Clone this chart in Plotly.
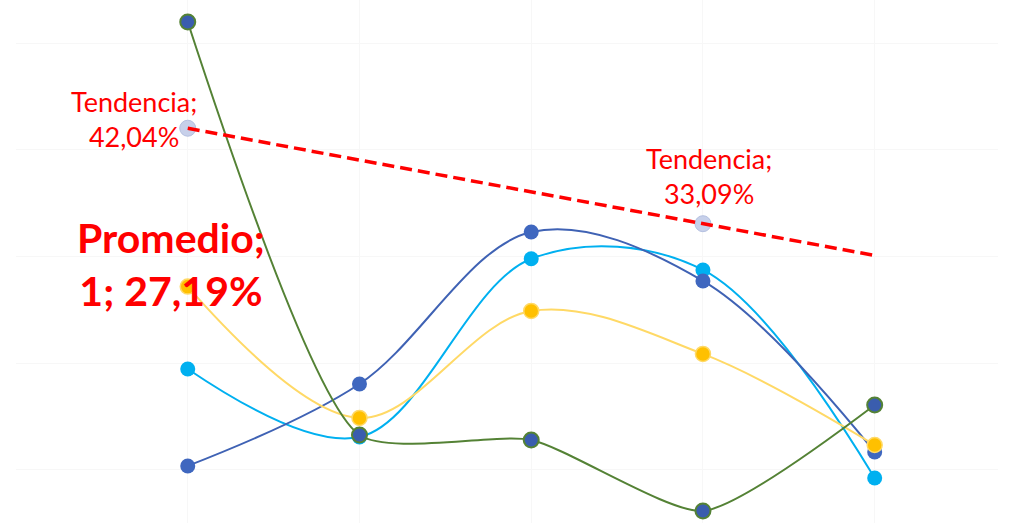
import plotly.graph_objects as go

# ---- data ----
categories = [1, 2, 3, 4, 5]
serie_verde = [52.0, 13.28, 12.81, 6.16, 16.09]
serie_azul = [10.38, 18.06, 32.31, 27.72, 11.69]
serie_celeste = [19.47, 13.09, 29.80, 28.75, 9.25]
promedio = [27.19, 14.88, 24.91, 20.88, 12.34]
tendencia = [42.04, 39.06, 36.07, 33.09, 30.11]
tendencia_label_idx = [0, 3]

RED = "#FF0000"
FONT = "Lato"

fig = go.Figure()

def add_series(y, line_color, fill, border, bw, smoothing=1.0, width=2):
    fig.add_trace(go.Scatter(
        x=categories, y=y, mode="lines+markers",
        line=dict(color=line_color, width=width, shape="spline", smoothing=smoothing),
        marker=dict(size=15, color=fill, line=dict(color=border, width=bw)),
        showlegend=False, hoverinfo="skip"))

add_series(serie_celeste, "#00B0F0", "#00B0F0", "#00B0F0", 0)
add_series(serie_azul, "#3F62B4", "#3F67BF", "#3F67BF", 0)
add_series(promedio, "#FFD966", "#FFC000", "#FFD966", 1.5)
add_series(serie_verde, "#548235", "#3A5DAE", "#548235", 2, smoothing=0.6)

# trend markers (drawn below the dashed line)
fig.add_trace(go.Scatter(
    x=[categories[i] for i in tendencia_label_idx],
    y=[tendencia[i] for i in tendencia_label_idx],
    mode="markers",
    marker=dict(size=16, color="#C7D0EA", line=dict(color="#B4C0E0", width=1)),
    showlegend=False, hoverinfo="skip"))
fig.add_trace(go.Scatter(
    x=categories, y=tendencia, mode="lines",
    line=dict(color=RED, width=3.5, dash="12px,6px"),
    showlegend=False, hoverinfo="skip"))

def fmt(v):
    return f"{v:.2f}%".replace(".", ",")

# labels
fig.add_annotation(x=categories[0], y=tendencia[0], xref="x", yref="y",
                   text=f"Tendencia;<br>{fmt(tendencia[0])}", showarrow=False,
                   xshift=-54, yshift=9, align="center",
                   font=dict(family=FONT, size=27, color=RED))
fig.add_annotation(x=categories[3], y=tendencia[3], xref="x", yref="y",
                   text=f"Tendencia;<br>{fmt(tendencia[3])}", showarrow=False,
                   xshift=6, yshift=48, align="center",
                   font=dict(family=FONT, size=27, color=RED))
fig.add_annotation(x=categories[0], y=promedio[0], xref="x", yref="y",
                   text=f"<b>Promedio;<br>{categories[0]}; {fmt(promedio[0])}</b>",
                   showarrow=False, xshift=-17, yshift=23, align="center",
                   font=dict(family=FONT, size=41, color=RED))

fig.update_layout(
    width=1025, height=523, margin=dict(l=0, r=0, t=0, b=0),
    paper_bgcolor="white", plot_bgcolor="white",
    xaxis=dict(domain=[16 / 1025, 998 / 1025], range=[0, 5.718], tick0=0, dtick=1,
               showgrid=True, gridcolor="#F7F7F7", gridwidth=1, zeroline=False,
               showticklabels=False, ticks=""),
    yaxis=dict(range=[5.03, 54.06], tick0=0, dtick=10, showgrid=True,
               gridcolor="#F7F7F7", gridwidth=1, zeroline=False,
               showticklabels=False, ticks=""),
)

fig.write_html("out.html")
